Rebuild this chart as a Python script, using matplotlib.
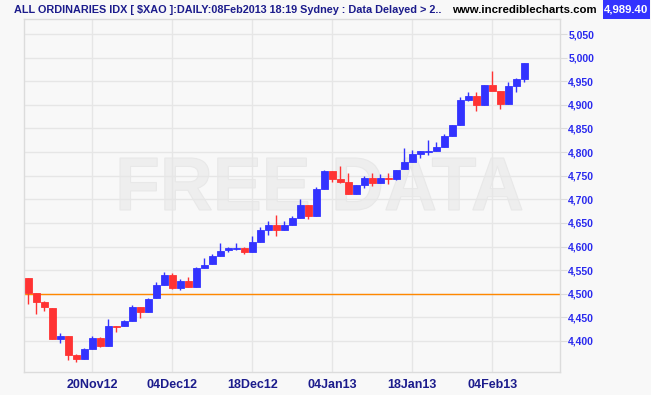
import matplotlib
matplotlib.use("Agg")
import matplotlib.pyplot as plt
from matplotlib.textpath import TextPath
from matplotlib.font_manager import FontProperties
from matplotlib.patches import PathPatch, Rectangle
from matplotlib.transforms import Affine2D

# ---------------- data ----------------
dates = ["08Nov12", "09Nov12", "12Nov12", "13Nov12", "14Nov12", "15Nov12", "16Nov12",
         "19Nov12", "20Nov12", "21Nov12", "22Nov12", "23Nov12", "26Nov12", "27Nov12",
         "28Nov12", "29Nov12", "30Nov12",
         "03Dec12", "04Dec12", "05Dec12", "06Dec12", "07Dec12", "10Dec12", "11Dec12",
         "12Dec12", "13Dec12", "14Dec12", "17Dec12", "18Dec12", "19Dec12", "20Dec12",
         "21Dec12", "24Dec12", "27Dec12", "28Dec12", "31Dec12",
         "02Jan13", "03Jan13", "04Jan13", "07Jan13", "08Jan13", "09Jan13", "10Jan13",
         "11Jan13", "14Jan13", "15Jan13", "16Jan13", "17Jan13", "18Jan13", "21Jan13",
         "22Jan13", "23Jan13", "24Jan13", "25Jan13", "29Jan13", "30Jan13", "31Jan13",
         "01Feb13", "04Feb13", "05Feb13", "06Feb13", "07Feb13", "08Feb13"]

opens = [4533, 4502, 4483, 4470, 4405, 4411, 4370, 4361, 4384, 4406,
         4390, 4432, 4432, 4443, 4473, 4462, 4490, 4519, 4540, 4513,
         4527, 4514, 4555, 4562, 4580, 4593, 4594, 4596, 4589, 4610,
         4634, 4646, 4635, 4646, 4660, 4687, 4665, 4722, 4760, 4743,
         4737, 4712, 4731, 4745, 4734, 4745, 4744, 4764, 4780, 4795,
         4801, 4802, 4811, 4834, 4857, 4910, 4919, 4900, 4943, 4929,
         4902, 4940, 4955]
highs = [4533, 4502, 4485, 4470, 4417, 4411, 4373, 4385, 4411, 4409,
         4447, 4432, 4445, 4476, 4473, 4490, 4525, 4546, 4544, 4531,
         4536, 4557, 4576, 4585, 4608, 4600, 4608, 4598, 4622, 4641,
         4654, 4667, 4654, 4664, 4701, 4687, 4726, 4762, 4760, 4771,
         4756, 4730, 4749, 4756, 4754, 4755, 4763, 4809, 4804, 4802,
         4826, 4822, 4838, 4857, 4917, 4927, 4927, 4942, 4972, 4929,
         4948, 4957, 4989.4]
lows = [4478, 4457, 4464, 4405, 4396, 4360, 4356, 4361, 4384, 4388,
        4390, 4418, 4432, 4443, 4449, 4462, 4490, 4519, 4510, 4508,
        4514, 4514, 4555, 4562, 4580, 4588, 4592, 4584, 4589, 4610,
        4624, 4623, 4635, 4646, 4660, 4658, 4665, 4722, 4736, 4735,
        4712, 4712, 4723, 4728, 4734, 4732, 4741, 4764, 4780, 4788,
        4793, 4802, 4811, 4834, 4857, 4908, 4887, 4900, 4943, 4891,
        4902, 4927, 4948]
closes = [4501, 4483, 4471, 4405, 4411, 4370, 4361, 4383, 4406, 4390,
          4432, 4430, 4442, 4473, 4462, 4489, 4519, 4540, 4512, 4527,
          4514, 4555, 4561, 4580, 4591, 4596, 4596, 4589, 4610, 4634,
          4646, 4635, 4646, 4660, 4687, 4665, 4722, 4760, 4744, 4737,
          4712, 4730, 4745, 4734, 4745, 4744, 4763, 4779, 4795, 4802,
          4802, 4811, 4834, 4857, 4910, 4918, 4900, 4942, 4929, 4902,
          4940, 4955, 4989.4]

tick_labels = ["20Nov12", "04Dec12", "18Dec12", "04Jan13", "18Jan13", "04Feb13"]
y_ticks = list(range(4400, 5051, 50))
ref_level = 4500
last_price = "4,989.40"
title = "ALL ORDINARIES IDX [ $XAO ]:DAILY:08Feb2013 18:19 Sydney : Data Delayed > 2.."
site = "www.incrediblecharts.com"

# ---------------- style ----------------
W, H = 651, 395
BG = "#f8f8f8"
BLUE = "#3333ff"
RED = "#ff3333"
GRID = "#e6e6e6"
NAVY = "#1c1c8c"

fig = plt.figure(figsize=(W / 100, H / 100), dpi=100, facecolor=BG)
L, R, T, B = 24, 560, 19, 372
ax = fig.add_axes([L / W, (H - B) / H, (R - L) / W, (B - T) / H], facecolor=BG)

# watermark
fp = FontProperties(family=["Liberation Sans", "DejaVu Sans"], weight="bold")
tp = TextPath((0, 0), "FREE DATA", prop=fp, size=50)
ext = tp.get_extents()
bx0, bx1, by_top, by_bot = 120, 522, 158, 210
tr = (Affine2D().translate(-ext.x0, -ext.y0)
      .scale((bx1 - bx0) / W / ext.width, (by_bot - by_top) / H / ext.height)
      .translate(bx0 / W, (H - by_bot) / H)) + fig.transFigure
wm = PathPatch(tp, transform=tr, facecolor="#eeeeee", edgecolor="#e8e8e8",
               linewidth=0.8, zorder=0.5)
ax.add_patch(wm)

x = list(range(len(dates)))
for i in x:
    o, h, l, c = opens[i], highs[i], lows[i], closes[i]
    col = BLUE if c >= o else RED
    ax.vlines(i, l, h, color=col, linewidth=1.0, zorder=3)
    bot = min(o, c)
    ht = abs(c - o)
    ax.bar(i, ht, bottom=bot, width=0.84, color=col, edgecolor=col,
           linewidth=0.6, zorder=4)

ax.axhline(ref_level, color="#ff8800", linewidth=1.0, zorder=2)

ax.set_xlim(-0.54, 66.46)
y_lo = 4400 - (B - 341) / 0.4723
y_hi = 4400 + (341 - T) / 0.4723
ax.set_ylim(y_lo, y_hi)

tick_pos = [dates.index(t) for t in tick_labels]
ax.set_xticks(tick_pos)
ax.set_xticklabels(tick_labels)
ax.set_yticks(y_ticks)
ax.set_yticklabels([f"{v:,}" for v in y_ticks])
ax.yaxis.tick_right()
ax.grid(True, color=GRID, linewidth=1.0, zorder=0)
ax.set_axisbelow(True)

for s in ax.spines.values():
    s.set_color("#dcdcdc")
    s.set_linewidth(1.0)

ax.tick_params(axis="y", which="both", length=5, color="#dcdcdc", pad=1,
               labelcolor="#2a2aee", labelsize=7.5)
ax.tick_params(axis="x", which="both", length=0, pad=5,
               labelcolor=NAVY, labelsize=9)
for lab in ax.get_yticklabels():
    lab.set_fontfamily(["Liberation Sans", "DejaVu Sans"])
    lab.set_fontweight("bold")
for lab in ax.get_xticklabels():
    lab.set_fontfamily(["Liberation Sans Narrow", "Liberation Sans", "DejaVu Sans"])
    lab.set_fontweight("bold")

fig.text(14 / W, 1 - 10 / H, title, ha="left", va="center", color=NAVY,
         fontsize=7.8, fontweight="bold",
         family=["Liberation Sans Narrow", "Liberation Sans", "DejaVu Sans"])
fig.text(452 / W, 1 - 10 / H, site, ha="left", va="center", color="black",
         fontsize=8.2, fontweight="bold", family=["Liberation Sans", "DejaVu Sans"])
fig.patches.append(Rectangle((603 / W, 1 - 19 / H), 47 / W, 19 / H,
                             transform=fig.transFigure, facecolor=BLUE,
                             edgecolor="none"))
fig.text(626.5 / W, 1 - 9.5 / H, last_price, ha="center", va="center", color="white",
         fontsize=8.2, fontweight="bold", family=["Liberation Sans", "DejaVu Sans"])

fig.savefig("out.png", dpi=100, facecolor=BG)
